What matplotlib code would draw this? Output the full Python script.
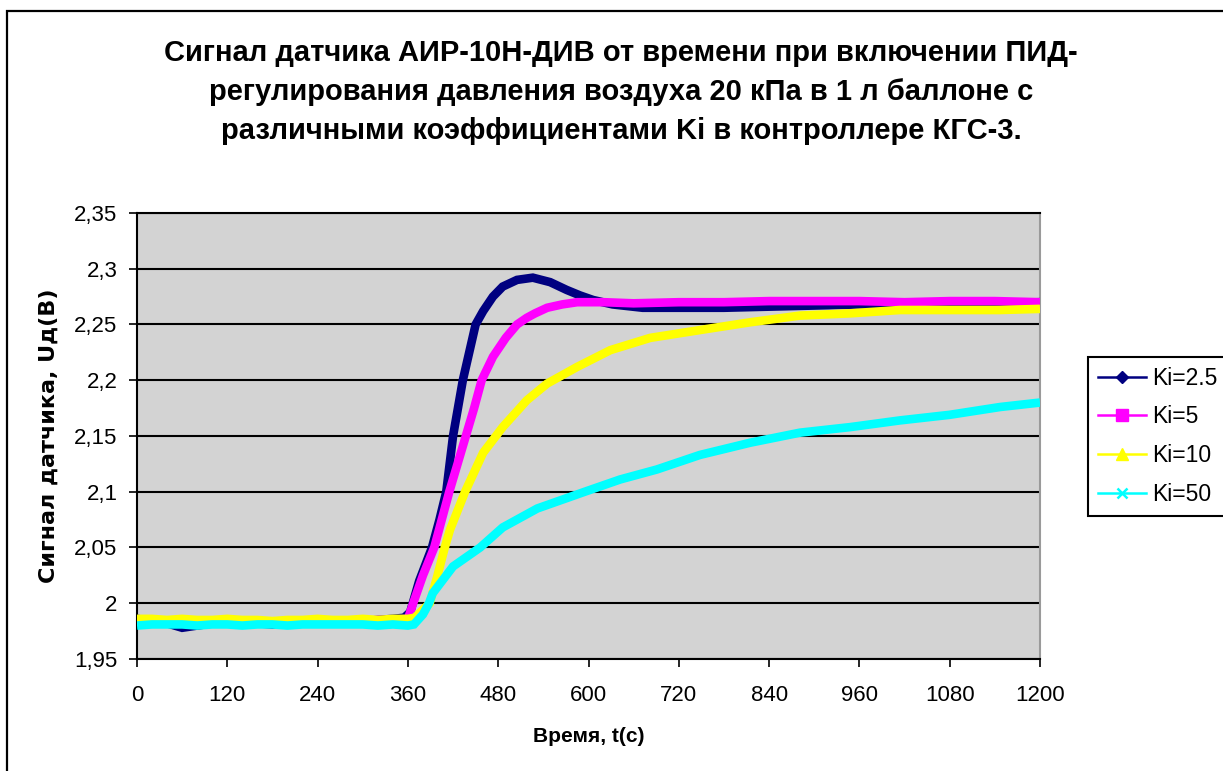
import numpy as np
import matplotlib
matplotlib.use('Agg')
import matplotlib.pyplot as plt
from matplotlib.lines import Line2D
from matplotlib.patches import Rectangle
from matplotlib.ticker import FuncFormatter

plt.rcParams['font.family'] = ['Liberation Sans', 'DejaVu Sans']

# ── data (time, s / sensor signal, V) ──
t_k25 = [0, 20, 40, 60, 80, 100, 120, 140, 160, 180, 200, 220, 240, 260, 280, 300, 320, 340, 355,
         363, 375, 392, 402, 411, 420, 433, 450, 460, 473, 486, 505, 526, 549, 571, 589, 606, 632,
         672, 720, 780, 840, 900, 960, 1020, 1080, 1140, 1200]
u_k25 = [1.986, 1.984, 1.982, 1.978, 1.980, 1.982, 1.982, 1.981, 1.982, 1.981, 1.982, 1.982, 1.983,
         1.982, 1.983, 1.984, 1.985, 1.986, 1.987,
         1.992, 2.020, 2.050, 2.075, 2.100, 2.150, 2.200, 2.250, 2.262, 2.275, 2.284, 2.290, 2.292,
         2.288, 2.281, 2.276, 2.272, 2.268,
         2.265, 2.265, 2.265, 2.266, 2.267, 2.268, 2.268, 2.268, 2.269, 2.270]

t_k5 = [0, 20, 40, 60, 80, 100, 120, 140, 160, 180, 200, 220, 240, 260, 280, 300, 320, 340, 360,
        367, 380, 395, 405, 415, 426, 437, 448, 458, 473, 490, 505, 518, 529, 545, 565, 585, 620,
        660, 720, 780, 840, 900, 960, 1020, 1080, 1140, 1200]
u_k5 = [1.985, 1.985, 1.984, 1.983, 1.984, 1.984, 1.983, 1.984, 1.983, 1.983, 1.982, 1.984, 1.984,
        1.983, 1.984, 1.984, 1.985, 1.985, 1.986,
        2.000, 2.025, 2.050, 2.075, 2.100, 2.125, 2.150, 2.175, 2.200, 2.221, 2.238, 2.250, 2.256,
        2.260, 2.265, 2.268, 2.270, 2.270,
        2.269, 2.270, 2.270, 2.271, 2.271, 2.271, 2.270, 2.271, 2.271, 2.270]

t_k10 = [0, 20, 40, 60, 80, 100, 120, 140, 160, 180, 200, 220, 240, 260, 280, 300, 320, 340, 360,
         369, 389, 399, 409, 416, 436, 460, 477, 486, 518, 545, 585, 629, 682, 748, 815, 881, 948,
         1014, 1080, 1147, 1200]
u_k10 = [1.986, 1.986, 1.985, 1.986, 1.985, 1.985, 1.986, 1.985, 1.985, 1.984, 1.985, 1.985, 1.986,
         1.985, 1.985, 1.986, 1.985, 1.986, 1.986,
         1.987, 2.000, 2.024, 2.050, 2.066, 2.100, 2.135, 2.150, 2.158, 2.182, 2.197, 2.212, 2.227,
         2.238, 2.245, 2.252, 2.258, 2.260,
         2.263, 2.263, 2.263, 2.264]

t_k50 = [0, 20, 40, 60, 80, 100, 120, 140, 160, 180, 200, 220, 240, 260, 280, 300, 320, 340, 360,
         368, 380, 388, 393, 420, 456, 486, 532, 595, 642, 691, 748, 815, 881, 948, 1014, 1080,
         1147, 1200]
u_k50 = [1.980, 1.981, 1.981, 1.981, 1.980, 1.981, 1.981, 1.980, 1.981, 1.981, 1.980, 1.981, 1.981,
         1.981, 1.981, 1.981, 1.980, 1.981, 1.980,
         1.981, 1.990, 2.000, 2.009, 2.033, 2.050, 2.068, 2.085, 2.100, 2.111, 2.120, 2.133, 2.144,
         2.153, 2.158, 2.164, 2.169, 2.176, 2.180]

# label, t, u, colour, legend marker, marker size
SERIES = [
    ('Ki=2.5', t_k25, u_k25, '#000080', 'D', 6.2),
    ('Ki=5', t_k5, u_k5, '#FF00FF', 's', 8.0),
    ('Ki=10', t_k10, u_k10, '#FFFF00', '^', 9.0),
    ('Ki=50', t_k50, u_k50, '#00FFFF', 'x', 6.5),
]

X_TICKS = [0, 120, 240, 360, 480, 600, 720, 840, 960, 1080, 1200]
Y_TICKS = [1.95, 2.0, 2.05, 2.1, 2.15, 2.2, 2.25, 2.3, 2.35]

TITLE = ('Сигнал датчика АИР-10Н-ДИВ от времени при включении ПИД-\n'
         'регулирования давления воздуха 20 кПа в 1 л баллоне с\n'
         'различными коэффициентами Ki в контроллере КГС-3.')

W, H = 1223, 771
fig = plt.figure(figsize=(W / 100, H / 100), dpi=100)
fig.patch.set_facecolor('white')

# chart-area border (runs off the right/bottom edge like the reference crop)
fig.patches.append(Rectangle((7 / W, -0.05), 1.1, 1 - 11 / H + 0.05, transform=fig.transFigure,
                             fill=False, edgecolor='black', linewidth=1.6))

ax = fig.add_axes([137 / W, 1 - 659 / H, (1040 - 137) / W, (659 - 213) / H])
ax.set_facecolor('#D3D3D3')

for lbl, t, u, col, mk, ms in SERIES:
    ax.plot(t, u, color=col, lw=6.2, solid_joinstyle='miter', solid_capstyle='butt', zorder=3)

ax.set_xlim(0, 1200)
ax.set_ylim(1.95, 2.35)
ax.set_xticks(X_TICKS)
ax.set_yticks(Y_TICKS)
ax.yaxis.set_major_formatter(FuncFormatter(lambda v, p: f'{v:g}'.replace('.', ',')))
ax.tick_params(axis='both', direction='out', length=6, width=1.2, color='black', labelsize=16)
ax.tick_params(axis='y', pad=8)
ax.tick_params(axis='x', pad=13)
ax.grid(axis='y', color='black', lw=1.5, zorder=1)
ax.set_axisbelow(True)

for s in ('left', 'bottom', 'top'):
    ax.spines[s].set_color('black')
    ax.spines[s].set_linewidth(1.5)
ax.spines['right'].set_color('#9A9A9A')
ax.spines['right'].set_linewidth(1.5)

ax.set_xlabel('Время, t(с)', fontsize=15, fontweight='bold', labelpad=15)
ax.set_ylabel('Сигнал датчика, Uд(В)', fontsize=16, fontweight='bold', labelpad=11,
              family=['DejaVu Sans'])

fig.text(621 / W, 1 - 92 / H, TITLE, ha='center', va='center', fontsize=21,
         fontweight='bold', linespacing=1.52)

handles = [Line2D([0], [0], color=col, lw=1.8, marker=mk, markersize=ms,
                  markeredgewidth=1.8 if mk == 'x' else 1.0, markerfacecolor=col,
                  markeredgecolor=col)
           for lbl, t, u, col, mk, ms in SERIES]
leg = fig.legend(handles, [s[0] for s in SERIES], loc='upper left',
                 bbox_to_anchor=(1088 / W, 1 - 357 / H), fontsize=16.5, frameon=True,
                 fancybox=False, edgecolor='black', framealpha=1, handlelength=2.1,
                 handletextpad=0.28, labelspacing=0.69, borderpad=0.42, borderaxespad=0)
leg.get_frame().set_linewidth(1.5)

fig.savefig('out.png', dpi=100, facecolor='white')
